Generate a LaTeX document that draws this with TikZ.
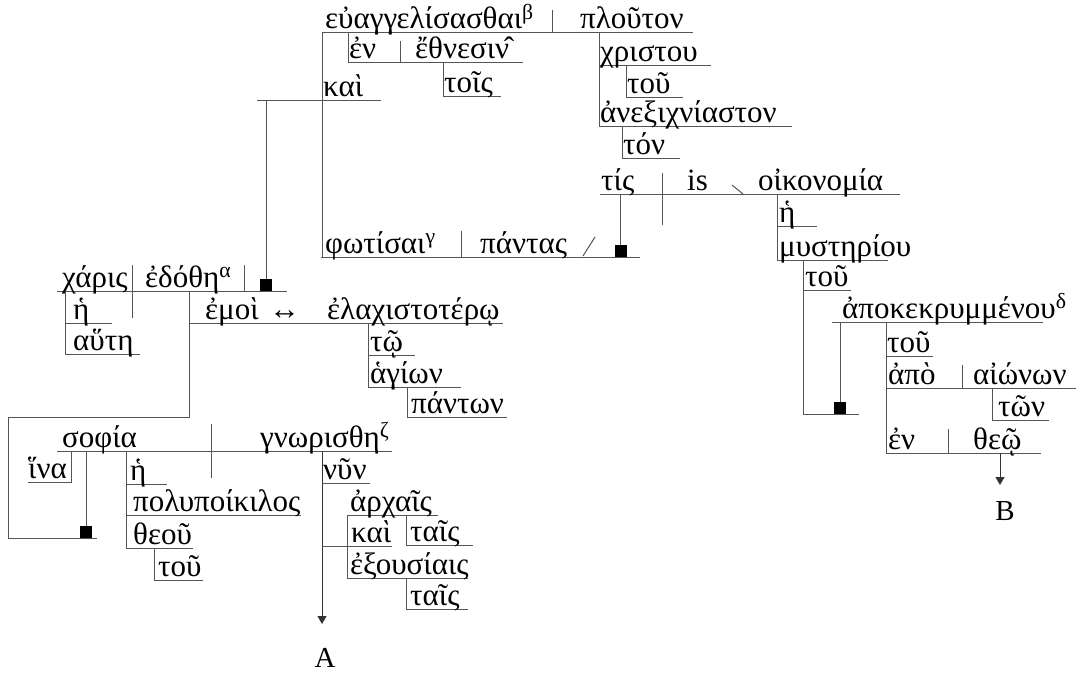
\documentclass[tikz,border=0pt]{standalone}
\usepackage{fontspec}
\setmainfont{Liberation Serif}
\usetikzlibrary{arrows.meta}
\definecolor{rule}{RGB}{85,85,85}
\tikzset{
  word/.style={anchor=base west, inner sep=0pt, font=\fontsize{31}{36}\selectfont},
  label/.style={anchor=base, inner sep=0pt, font=\fontsize{29}{34}\selectfont},
  ln/.style={draw=rule, line width=1pt},
  pointer/.style={ln, -{Triangle[width=9pt,length=8pt]}, draw=black!80}
}
\newcommand{\blk}[2]{\fill (#1-6,#2-12) rectangle (#1+6,#2);}
\begin{document}
\begin{tikzpicture}[x=1pt,y=-1pt]
\useasboundingbox (0,0) rectangle (1076,674);

% ---- upper clause: εὐαγγελίσασθαι | πλοῦτον
\draw[ln] (322,33) -- (693,33);
\draw[ln] (552,10) -- (552,33);
\draw[ln] (322,33) -- (322,257);
\draw[ln] (348,33) -- (348,63) -- (523,63);
\draw[ln] (400,41) -- (400,63);
\draw[ln] (443,63) -- (443,97) -- (501,97);
\draw[ln] (257,101) -- (381,101);
\draw[ln] (266,101) -- (266,279);
\node[word] (w1) at (325,29) {εὐαγγελίσασθαι\textsuperscript{β}};
\node[word] (w2) at (580,29) {πλοῦτον};
\node[word] (w3) at (349,59) {ἐν};
\node[word] (w4) at (415,59) {ἔθνεσιν̂};
\node[word] (w5) at (323,97) {καὶ};
\node[word] (w6) at (444,93) {τοῖς};

% πλοῦτον modifiers
\draw[ln] (599,33) -- (599,127);
\draw[ln] (599,66) -- (711,66);
\draw[ln] (626,66) -- (626,98) -- (683,98);
\draw[ln] (599,127) -- (792,127);
\draw[ln] (622,127) -- (622,158) -- (680,158);
\node[word] (w7) at (600,62) {χριστου};
\node[word] (w8) at (627,94) {τοῦ};
\node[word] (w9) at (600,123) {ἀνεξιχνίαστον};
\node[word] (w10) at (623,154) {τόν};

% φωτίσαι | πάντας
\draw[ln] (321,257) -- (640,257);
\draw[ln] (461,231) -- (461,257);
\draw[ln] (583,256) -- (595,237);
\draw[ln] (620,194) -- (620,246);
\blk{620.5}{257}
\node[word] (w11) at (325,253) {φωτίσαι\textsuperscript{γ}};
\node[word] (w12) at (480,253) {πάντας};

% τίς | is \ οἰκονομία
\draw[ln] (600,194) -- (900,194);
\draw[ln] (662,173) -- (662,225);
\draw[ln] (732,185) -- (743,194);
\node[word] (w13) at (601,190) {τίς};
\node[word] (w14) at (687,190) {is};
\node[word] (w15) at (758,190) {οἰκονομία};
\draw[ln] (777,194) -- (777,260);
\draw[ln] (777,226) -- (817,226);
\draw[ln] (777,260) -- (888,260);
\node[word] (w16) at (779,222) {ἡ};
\node[word] (w17) at (779,256) {μυστηρίου};
\draw[ln] (803,260) -- (803,414) -- (859,414);
\draw[ln] (803,290) -- (851,290);
\node[word] (w18) at (805,286) {τοῦ};
\draw[ln] (840,322) -- (840,402);
\blk{840}{414}

% ἀποκεκρυμμένου
\draw[ln] (832,322) -- (1043,322);
\node[word] (w19) at (842,318) {ἀποκεκρυμμένου\textsuperscript{δ}};
\draw[ln] (886,322) -- (886,453);
\draw[ln] (886,356) -- (933,356);
\draw[ln] (886,388) -- (1076,388);
\draw[ln] (962,365) -- (962,388);
\draw[ln] (992,388) -- (992,420) -- (1049,420);
\draw[ln] (886,453) -- (1041,453);
\draw[ln] (948,429) -- (948,453);
\node[word] (w20) at (887,352) {τοῦ};
\node[word] (w21) at (888,384) {ἀπὸ};
\node[word] (w22) at (973,384) {αἰώνων};
\node[word] (w23) at (998,416) {τῶν};
\node[word] (w24) at (888,449) {ἐν};
\node[word] (w25) at (973,449) {θεῷ};
\coordinate (bfoot) at (1000,453);
\node[label] (lb) at (1005,520) {B};
\draw[pointer] (bfoot) -- (1000,485);

% ---- χάρις | ἐδόθη
\draw[ln] (57,291) -- (287,291);
\draw[ln] (132,265) -- (132,318);
\draw[ln] (244,265) -- (244,291);
\blk{266}{291}
\node[word] (w26) at (62,287) {χάρις};
\node[word] (w27) at (145,287) {ἐδόθη\textsuperscript{α}};
\draw[ln] (65,291) -- (65,354);
\draw[ln] (65,323) -- (112,323);
\draw[ln] (65,354) -- (140,354);
\node[word] (w28) at (73,319) {ἡ};
\node[word] (w29) at (73,350) {αὕτη};

% ἐμοὶ ↔ ἐλαχιστοτέρῳ
\draw[ln] (189,291) -- (189,417) -- (8,417) -- (8,538) -- (97,538);
\draw[ln] (189,323) -- (503,323);
\node[word] (w30) at (205,319) {ἐμοὶ};
\node[word] (w31) at (269,319) {↔};
\node[word] (w32) at (327,319) {ἐλαχιστοτέρῳ};
\draw[ln] (368,323) -- (368,387);
\draw[ln] (368,355) -- (415,355);
\draw[ln] (368,387) -- (461,387);
\draw[ln] (407,387) -- (407,417) -- (507,417);
\node[word] (w33) at (370,351) {τῷ};
\node[word] (w34) at (370,383) {ἁγίων};
\node[word] (w35) at (411,413) {πάντων};

% ---- σοφία | γνωρισθη
\draw[ln] (57,451) -- (392,451);
\draw[ln] (211,424) -- (211,478);
\draw[ln] (86,451) -- (86,526);
\blk{86}{538}
\draw[ln] (71,451) -- (71,482) -- (28,482);
\node[word] (w36) at (62,447) {σοφία};
\node[word] (w37) at (260,447) {γνωρισθη\textsuperscript{ζ}};
\node[word] (w38) at (28,478) {ἵνα};
\draw[ln] (126,451) -- (126,548);
\draw[ln] (126,484) -- (167,484);
\draw[ln] (126,515) -- (301,515);
\draw[ln] (126,548) -- (193,548);
\draw[ln] (154,548) -- (154,580) -- (203,580);
\node[word] (w39) at (130,480) {ἡ};
\node[word] (w40) at (133,511) {πολυποίκιλος};
\node[word] (w41) at (133,544) {θεοῦ};
\node[word] (w42) at (158,576) {τοῦ};

\coordinate (afoot) at (322,451);
\node[label] (la) at (325,667) {A};
\draw[pointer] (afoot) -- (322,624);
\draw[ln] (322,483) -- (370,483);
\draw[ln] (322,546) -- (392,546);
\draw[ln] (347,515) -- (347,578);
\draw[ln] (347,515) -- (438,515);
\draw[ln] (347,578) -- (468,578);
\draw[ln] (406,515) -- (406,545) -- (473,545);
\draw[ln] (406,578) -- (406,609) -- (468,609);
\node[word] (w43) at (323,479) {νῦν};
\node[word] (w44) at (350,511) {ἀρχαῖς};
\node[word] (w45) at (351,542) {καὶ};
\node[word] (w46) at (410,541) {ταῖς};
\node[word] (w47) at (350,574) {ἐξουσίαις};
\node[word] (w48) at (410,605) {ταῖς};
\end{tikzpicture}
\end{document}
